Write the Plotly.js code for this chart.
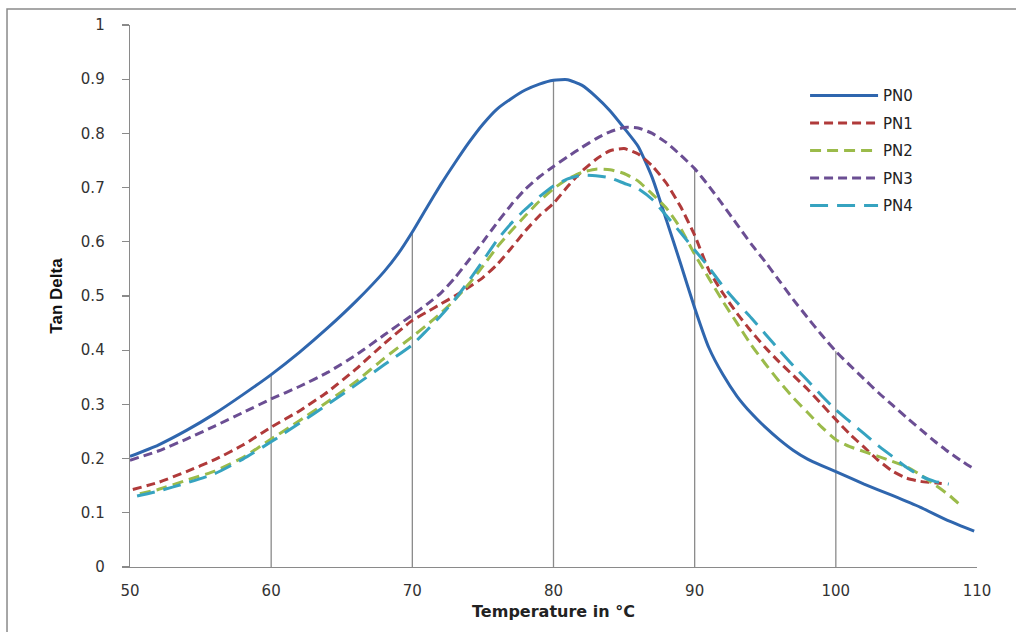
<!DOCTYPE html>
<html>
<head>
<meta charset="utf-8">
<script src="https://cdn.plot.ly/plotly-3.0.1.min.js"></script>
<style>html,body{margin:0;padding:0;background:#fff;}#chart{width:1016px;height:632px;}</style>
</head>
<body>
<div id="chart"></div>
<script>
// Temperature (°C) and Tan Delta values
const pn0X = [50,52,54,56,58,60,62,64,66,68,69,70,71,72,73,74,75,76,77,78,79,80,81,82,83,84,85,86,87,88,89,90,91,92,93,94,95,96,97,98,99,100,102,104,106,108,109.8];
const pn0Y = [0.204,0.225,0.252,0.283,0.318,0.355,0.396,0.441,0.490,0.545,0.578,0.618,0.662,0.705,0.745,0.783,0.817,0.845,0.864,0.880,0.891,0.898,0.899,0.889,0.868,0.842,0.810,0.776,0.718,0.640,0.560,0.478,0.405,0.355,0.315,0.284,0.258,0.235,0.215,0.199,0.187,0.176,0.153,0.132,0.110,0.085,0.066];

const pn1X = [50.2,52,54,56,58,60,62,64,66,68,70,71,72,73,74,75,76,77,78,79,80,81,82,83,84,85,86,87,88,89,90,91,92,93,94,95,96,97,98,99,100,101,102,103,104,105,106,107.5];
const pn1Y = [0.143,0.156,0.176,0.198,0.225,0.258,0.288,0.323,0.365,0.412,0.455,0.470,0.485,0.500,0.516,0.534,0.558,0.588,0.620,0.648,0.671,0.702,0.730,0.752,0.768,0.772,0.762,0.740,0.708,0.665,0.612,0.548,0.505,0.468,0.435,0.405,0.378,0.353,0.328,0.300,0.272,0.245,0.221,0.197,0.177,0.164,0.158,0.154];

const pn2X = [50.7,52,54,56,58,60,62,64,66,68,70,71,72,73,74,75,76,77,78,79,80,81,82,83,84,85,86,87,88,89,90,91,92,93,94,95,96,97,98,99,100,101,102,103,104,105,106,107,108,109];
const pn2Y = [0.135,0.143,0.160,0.177,0.202,0.236,0.270,0.305,0.342,0.385,0.425,0.446,0.468,0.493,0.522,0.555,0.590,0.620,0.648,0.675,0.698,0.716,0.728,0.734,0.733,0.726,0.712,0.688,0.662,0.625,0.577,0.533,0.490,0.450,0.410,0.375,0.342,0.312,0.285,0.258,0.235,0.222,0.213,0.204,0.195,0.185,0.170,0.152,0.133,0.110];

const pn3X = [50,52,54,56,58,60,62,64,66,68,70,71,72,73,74,75,76,77,78,79,80,81,82,83,84,85,86,87,88,89,90,91,92,93,94,95,96,97,98,99,100,101,102,103,104,105,106,107,108,109,109.8];
const pn3Y = [0.197,0.214,0.236,0.260,0.285,0.310,0.333,0.359,0.391,0.428,0.465,0.484,0.505,0.533,0.566,0.600,0.635,0.668,0.697,0.720,0.739,0.757,0.774,0.790,0.803,0.811,0.810,0.800,0.783,0.760,0.735,0.703,0.668,0.632,0.596,0.563,0.528,0.493,0.460,0.428,0.398,0.372,0.347,0.322,0.299,0.276,0.254,0.232,0.212,0.194,0.181];

const pn4X = [50.5,52,54,56,58,60,62,64,66,68,70,71,72,73,74,75,76,77,78,79,80,81,82,83,84,85,86,87,88,89,90,91,92,93,94,95,96,97,98,99,100,101,102,103,104,105,106,107,108];
const pn4Y = [0.131,0.140,0.155,0.172,0.199,0.231,0.265,0.300,0.336,0.373,0.410,0.436,0.463,0.493,0.528,0.565,0.603,0.634,0.660,0.683,0.703,0.716,0.723,0.722,0.718,0.708,0.698,0.678,0.648,0.617,0.585,0.553,0.518,0.488,0.460,0.430,0.400,0.371,0.344,0.316,0.290,0.268,0.246,0.224,0.204,0.184,0.168,0.158,0.153];

// Drop lines (vertical lines from the x axis up to the highest curve)
const dropX = [60,70,80,90,100];
const dropTop = [0.355,0.618,0.898,0.735,0.398];

const seriesNames = ["PN0","PN1","PN2","PN3","PN4"];
const xTickVals = [50,60,70,80,90,100,110];
const yTickVals = [0,0.1,0.2,0.3,0.4,0.5,0.6,0.7,0.8,0.9,1];

const dx = [], dy = [];
dropX.forEach((x, i) => { dx.push(x, x, null); dy.push(0, dropTop[i], null); });

const font = "DejaVu Sans, Verdana, sans-serif";
const styles = [
  {color:"#2F66AE", dash:"solid", width:3},
  {color:"#B03A3A", dash:"9px,5px", width:3},
  {color:"#9BBB4A", dash:"11px,6px", width:3},
  {color:"#6B4E93", dash:"9px,5px", width:3},
  {color:"#36A3C0", dash:"18px,9px", width:3}
];
const xs = [pn0X,pn1X,pn2X,pn3X,pn4X];
const ys = [pn0Y,pn1Y,pn2Y,pn3Y,pn4Y];

const traces = [{
  x: dx, y: dy, mode: "lines", showlegend: false, hoverinfo: "skip",
  line: {color: "#8a8a8a", width: 1.3}
}];
seriesNames.forEach((n, i) => {
  traces.push({
    x: xs[i], y: ys[i], name: n, mode: "lines", legendgroup: n,
    line: {color: styles[i].color, dash: styles[i].dash, width: styles[i].width, shape: "spline", smoothing: 0.5}
  });
});

const layout = {
  width: 1016, height: 632,
  margin: {l: 130, r: 39, t: 25, b: 65},
  paper_bgcolor: "#ffffff", plot_bgcolor: "#ffffff",
  showlegend: true,
  legend: {
    x: 0.797, y: 0.90, xanchor: "left", yanchor: "top",
    font: {family: font, size: 15, color: "#222"},
    itemwidth: 68,
    tracegroupgap: 5, bgcolor: "rgba(0,0,0,0)"
  },
  xaxis: {
    range: [50, 110], tickvals: xTickVals, showgrid: false, zeroline: false,
    showline: true, linecolor: "#8a8a8a", linewidth: 1.3,
    ticks: "", ticklabelstandoff: 10,
    tickfont: {family: font, size: 15, color: "#333"},
    title: {text: "Temperature in °C", font: {family: font, size: 16, color: "#222", weight: "bold"}, standoff: 6}
  },
  yaxis: {
    range: [0, 1], tickvals: yTickVals, ticktext: yTickVals.map(v => String(v)), showgrid: false, zeroline: false,
    showline: true, linecolor: "#8a8a8a", linewidth: 1.3,
    ticks: "outside", ticklen: 7, tickcolor: "#8a8a8a", tickwidth: 1.3, ticklabelstandoff: 14,
    tickfont: {family: font, size: 15, color: "#333"},
    title: {text: "Tan Delta", font: {family: "Liberation Sans Narrow, Arial Narrow, sans-serif", size: 17, color: "#111", weight: "bold"}, standoff: 14}
  },
  shapes: [{
    type: "rect", xref: "paper", yref: "paper",
    x0: -0.1452, x1: 1.0685, y0: -0.2, y1: 1.0295,
    line: {color: "#8a8a8a", width: 1.5}, fillcolor: "rgba(0,0,0,0)", layer: "below"
  }]
};

Plotly.newPlot("chart", traces, layout, {displayModeBar: false, staticPlot: true});
</script>
</body>
</html>
